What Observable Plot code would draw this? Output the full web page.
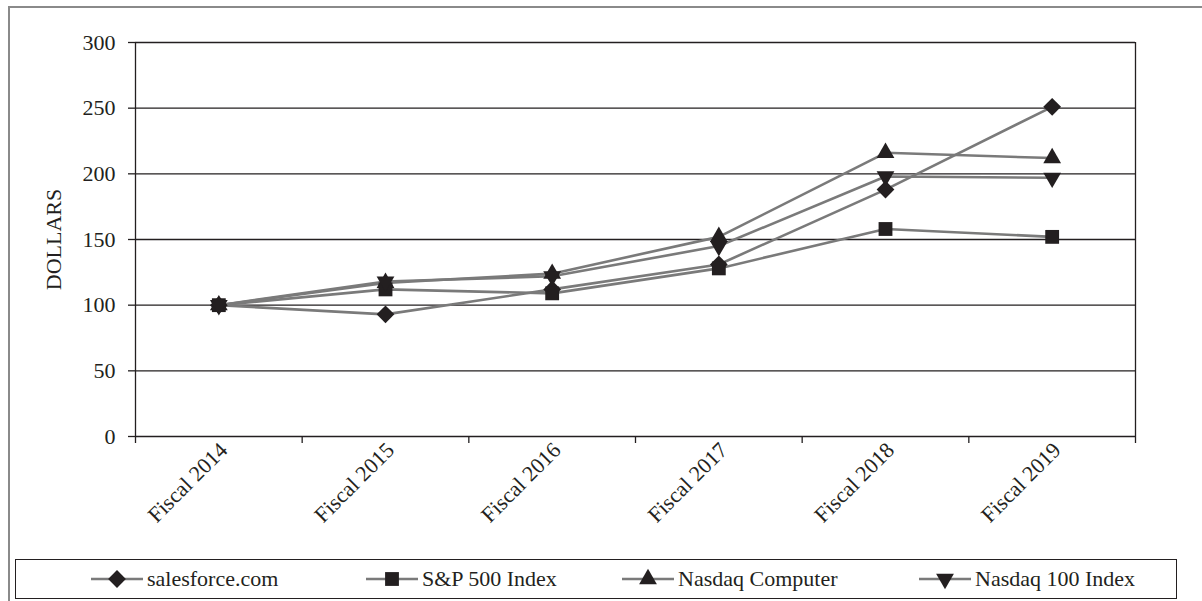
<!DOCTYPE html>
<html>
<head>
<meta charset="utf-8">
<script src="https://cdn.jsdelivr.net/npm/d3@7"></script>
<script src="https://cdn.jsdelivr.net/npm/@observablehq/plot@0.6"></script>
<style>
  html, body { margin: 0; padding: 0; background: #fff; }
  body { width: 1202px; height: 601px; position: relative; overflow: hidden; color: #231f20; }
  #frame { position: absolute; left: 8px; top: 6px; width: 1300px; height: 700px; border: 2px solid #8a8a8a; box-sizing: border-box; }
  #chart { position: absolute; left: 0; top: 0; }
  #legend { position: absolute; left: 15px; top: 559px; width: 1162px; height: 40px; border: 1.5px solid #231f20; box-sizing: border-box; background: #fff; }
  .item { position: absolute; top: 0; height: 37px; display: flex; align-items: center; white-space: nowrap; }
  .item svg { display: block; margin-right: 4px; }
  .item span { font-family: "Liberation Serif", "Times New Roman", serif; font-size: 22px; color: #231f20; }
</style>
</head>
<body>
<div id="frame"></div>
<div id="chart"></div>
<div id="legend"></div>
<script>
const categories = ["Fiscal 2014", "Fiscal 2015", "Fiscal 2016", "Fiscal 2017", "Fiscal 2018", "Fiscal 2019"];
const seriesNames = ["salesforce.com", "S&P 500 Index", "Nasdaq Computer", "Nasdaq 100 Index"];
const salesforce = [100, 93, 112, 131, 188, 251];
const sp500 = [100, 112, 109, 128, 158, 152];
const nasdaqComputer = [100, 117, 124, 152, 216, 212];
const nasdaq100 = [100, 118, 122, 145, 198, 197];
const yTicks = [0, 50, 100, 150, 200, 250, 300];

const triangleDown = {
  draw(context, size) {
    const y = -Math.sqrt(size / (Math.sqrt(3) * 3));
    context.moveTo(0, -y * 2);
    context.lineTo(-Math.sqrt(3) * y, y);
    context.lineTo(Math.sqrt(3) * y, y);
    context.closePath();
  }
};

const seriesValues = [salesforce, sp500, nasdaqComputer, nasdaq100];
const symbols = ["diamond2", "square", "triangle", triangleDown];
const radii = [8.0, 7.8, 6.6, 6.6];
const lineColor = "#7a7a7a";
const markColor = "#231f20";
const serif = "'Liberation Serif', 'Times New Roman', serif";

const tables = seriesValues.map((vals, s) => vals.map((v, i) => ({i, v, series: seriesNames[s]})));
const bounds = d3.range(categories.length + 1).map(k => k - 0.5);
const idx = d3.range(categories.length);

const marks = [
  Plot.ruleY(yTicks, {stroke: markColor, strokeWidth: 1.3}),
  Plot.ruleX([bounds[0], bounds[bounds.length - 1]], {y1: 0, y2: 300, stroke: markColor, strokeWidth: 1.3}),
  Plot.axisY({ticks: yTicks, tickSize: 7, tickPadding: 13, label: null, stroke: markColor, strokeWidth: 1.3, fontSize: 22}),
  Plot.axisX({ticks: bounds, tickSize: 7, tickFormat: () => "", label: null, stroke: markColor, strokeWidth: 1.3}),
  Plot.axisX({ticks: idx, tickSize: 0, tickRotate: -45, tickPadding: 10, dx: 5, tickFormat: i => categories[i], label: null, fontSize: 22}),
  Plot.text(["DOLLARS"], {frameAnchor: "left", textAnchor: "middle", rotate: -90, dx: -82, fontSize: 22, fill: markColor})
];
tables.forEach((t) => {
  marks.push(Plot.line(t, {x: "i", y: "v", stroke: lineColor, strokeWidth: 2.6}));
});
tables.forEach((t, s) => {
  marks.push(Plot.dot(t, {x: "i", y: "v", symbol: symbols[s], r: radii[s], fill: markColor, stroke: "none"}));
});

const chart = Plot.plot({
  width: 1202,
  height: 556,
  marginLeft: 135,
  marginRight: 67,
  marginTop: 42,
  marginBottom: 120,
  style: {fontFamily: serif, fontSize: "22px", color: markColor, background: "transparent", overflow: "visible"},
  x: {type: "linear", domain: [bounds[0], bounds[bounds.length - 1]]},
  y: {domain: [0, 300]},
  marks
});
document.getElementById("chart").appendChild(chart);

// legend
const legend = document.getElementById("legend");
const lefts = [75, 350, 606, 903];
seriesNames.forEach((name, s) => {
  const item = document.createElement("div");
  item.className = "item";
  item.style.left = lefts[s] + "px";
  const svg = d3.create("svg").attr("width", 52).attr("height", 24);
  svg.append("line").attr("x1", 0).attr("x2", 52).attr("y1", 12).attr("y2", 12).attr("stroke", lineColor).attr("stroke-width", 2.6);
  const symObj = typeof symbols[s] === "string" ? ({diamond2: d3.symbolDiamond2, square: d3.symbolSquare, triangle: d3.symbolTriangle})[symbols[s]] : symbols[s];
  svg.append("path").attr("transform", "translate(26,12)").attr("d", d3.symbol(symObj, Math.PI * radii[s] * radii[s])()).attr("fill", markColor);
  item.appendChild(svg.node());
  const span = document.createElement("span");
  span.textContent = name;
  item.appendChild(span);
  legend.appendChild(item);
});
</script>
</body>
</html>
